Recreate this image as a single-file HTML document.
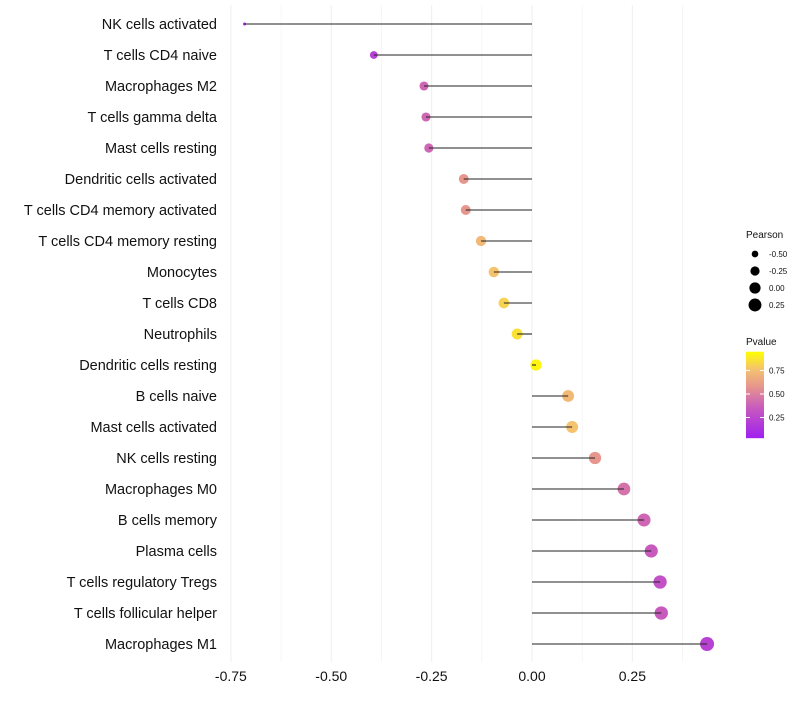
<!DOCTYPE html>
<html><head><meta charset="utf-8"><style>
body{margin:0;background:#fff;font-family:"Liberation Sans",sans-serif}
svg text{font-family:"Liberation Sans",sans-serif}
</style></head><body>
<svg id="chart" width="800" height="700"></svg>
<script>
const categories=["NK cells activated","T cells CD4 naive","Macrophages M2","T cells gamma delta","Mast cells resting","Dendritic cells activated","T cells CD4 memory activated","T cells CD4 memory resting","Monocytes","T cells CD8","Neutrophils","Dendritic cells resting","B cells naive","Mast cells activated","NK cells resting","Macrophages M0","B cells memory","Plasma cells","T cells regulatory  Tregs ","T cells follicular helper","Macrophages M1"];
const pearson=[-0.716,-0.394,-0.269,-0.264,-0.257,-0.170,-0.165,-0.127,-0.095,-0.070,-0.037,0.010,0.090,0.100,0.157,0.229,0.279,0.297,0.319,0.322,0.436];
const pvalue=[0.05,0.2,0.4,0.4,0.4,0.6,0.6,0.75,0.8,0.85,0.9,0.97,0.75,0.8,0.6,0.45,0.4,0.35,0.3,0.35,0.2];
const xTicks=[-0.75,-0.5,-0.25,0,0.25];
const xTickLabels=["-0.75","-0.50","-0.25","0.00","0.25"];
const sizeLegend=[-0.5,-0.25,0,0.25];
const sizeLegendLabels=["-0.50","-0.25","0.00","0.25"];
const colorTicks=[0.25,0.5,0.75];
const colorTickLabels=["0.25","0.50","0.75"];

const svg=document.getElementById('chart');
const NS="http://www.w3.org/2000/svg";
function mk(t,a,p){const e=document.createElementNS(NS,t);for(const k in a)e.setAttribute(k,a[k]);(p||svg).appendChild(e);return e;}
const xs=v=>532+v*401.5;
const ys=i=>24+i*31;
const rs=v=>Math.sqrt(Math.max(1,31.3+40.6*v));
const stops=[[0,[160,32,240]],[0.35,[200,90,190]],[0.6,[230,150,140]],[0.8,[245,195,110]],[1,[255,255,0]]];
function col(p){for(let i=1;i<stops.length;i++){if(p<=stops[i][0]){const a=stops[i-1],b=stops[i];const t=(p-a[0])/(b[0]-a[0]);const c=a[1].map((x,j)=>Math.round(x+(b[1][j]-x)*t));return `rgb(${c})`;}}return 'rgb(255,255,0)';}

// grid
for(let k=-0.75;k<=0.376;k+=0.125){const g=mk('line',{x1:xs(k),x2:xs(k),y1:5,y2:662,stroke:'#f0f0f0','stroke-width':Math.abs((k*4)%1)<1e-6?1.1:0.6});
}
xTicks.forEach((v,i)=>{const t=mk('text',{x:xs(v),y:681,'text-anchor':'middle','font-size':14,fill:'#111'});t.textContent=xTickLabels[i];
});
categories.forEach((c,i)=>{
 const y=ys(i);
 const t=mk('text',{x:217,y:y+5,'text-anchor':'end','font-size':14.5,fill:'#111'});t.textContent=c;
 
 const p=mk('circle',{cx:xs(pearson[i]),cy:y,r:rs(pearson[i]),fill:col(pvalue[i])});
 
 const l=mk('line',{x1:xs(0),x2:xs(pearson[i]),y1:y,y2:y,stroke:'#222','stroke-width':1.1});
 
});
// size legend
let tt=mk('text',{x:746,y:238,'font-size':10,fill:'#111'});tt.textContent='Pearson';

sizeLegend.forEach((v,i)=>{const y=254+i*17;
 const c=mk('circle',{cx:755,cy:y,r:rs(v),fill:'#000'});
 const t=mk('text',{x:769,y:y+3,'font-size':8,fill:'#111'});t.textContent=sizeLegendLabels[i];
 });
// color legend
tt=mk('text',{x:746,y:345,'font-size':10,fill:'#111'});tt.textContent='Pvalue';

const defs=mk('defs',{});const gr=mk('linearGradient',{id:'pg',x1:0,y1:1,x2:0,y2:0},defs);
stops.forEach(s=>mk('stop',{offset:s[0],'stop-color':`rgb(${s[1]})`},gr));
const cy=p=>441-p*94;
const bar=mk('rect',{x:746,y:cy(0.95),width:18,height:cy(0.03)-cy(0.95),fill:'url(#pg)'});

colorTicks.forEach((v,i)=>{mk('line',{x1:746,x2:750,y1:cy(v),y2:cy(v),stroke:'#fff'});mk('line',{x1:760,x2:764,y1:cy(v),y2:cy(v),stroke:'#fff'});
 const t=mk('text',{x:769,y:cy(v)+3,'font-size':8,fill:'#111'});t.textContent=colorTickLabels[i];
 });
</script>
</body></html>
